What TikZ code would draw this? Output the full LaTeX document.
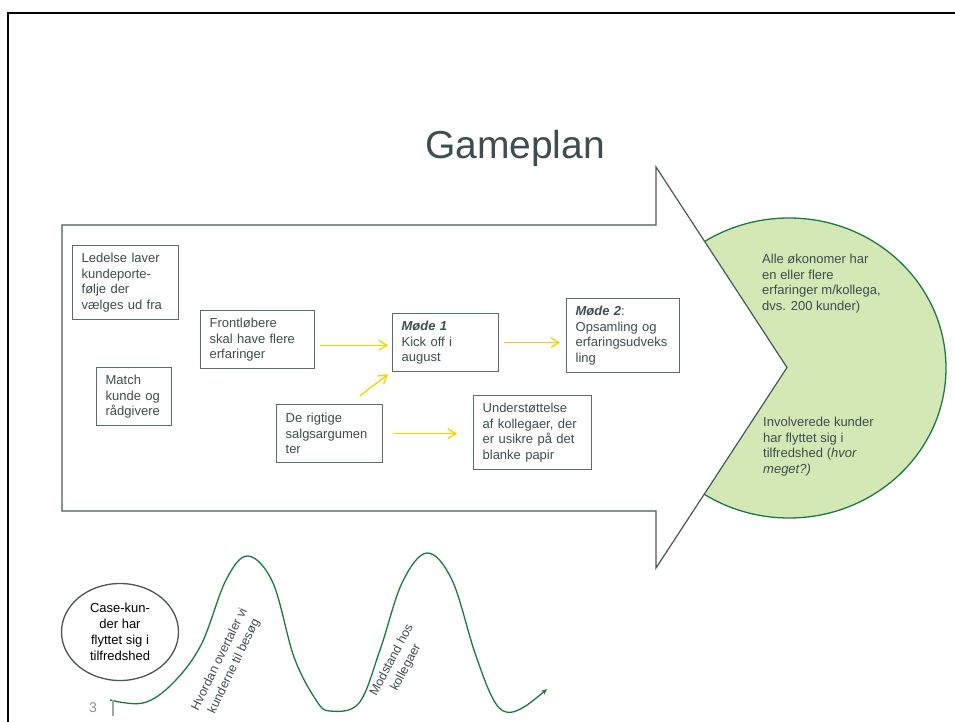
\documentclass[tikz,border=0pt]{standalone}
\usepackage{fontspec}
\setmainfont{Liberation Sans}
\usetikzlibrary{arrows.meta,shapes.geometric}
\definecolor{txtgray}{HTML}{3E4D50}
\definecolor{boxgray}{HTML}{5E6B6B}
\definecolor{arrgray}{HTML}{4A5757}
\definecolor{lgreen}{HTML}{D3E8B4}
\definecolor{dgreen}{HTML}{1E7A45}
\definecolor{wgreen}{HTML}{1B7A3C}
\definecolor{yarr}{HTML}{F2D500}
\definecolor{numgray}{HTML}{8E8E8E}
\tikzset{
  boxnode/.style={draw=boxgray, line width=1.3pt, fill=white, text=txtgray,
    font=\fontsize{13}{15.6}\selectfont, align=left, inner xsep=9pt, inner ysep=3pt,
    anchor=north west},
  ytext/.style={text=txtgray, font=\fontsize{13}{15.6}\selectfont, align=left,
    inner sep=0pt, anchor=north west},
  yellowarrow/.style={draw=yarr, line width=1.3pt, -{Straight Barb[length=8pt,width=10pt]}},
  wavetext/.style={text=txtgray, font=\fontsize{12.5}{16}\selectfont, align=center, inner sep=0pt},
}
\begin{document}
\begin{tikzpicture}[x=1pt,y=-1pt]
\useasboundingbox (0,0) rectangle (955,722);
% slide frame
\draw[line width=2.2pt, black] (8,722) -- (8,13) -- (955,13);
% title
\node[text=txtgray, font=\fontsize{39}{42}\selectfont, inner sep=0pt] (title) at (515,148) {Gameplan};
% goal circle
\filldraw[fill=lgreen, draw=dgreen, line width=1.3pt] (789,368) ellipse [x radius=157, y radius=150];
% big arrow
\filldraw[fill=white, draw=arrgray, line width=1.2pt, line join=miter]
  (62,225) -- (656,225) -- (656,167) -- (787,367.5) -- (656,568) -- (656,511) -- (62,511) -- cycle;
% circle texts
\node[ytext] (goal1) at (762,254) {Alle økonomer har\\en eller flere\\erfaringer m/kollega,\\dvs. 200 kunder)};
\node[ytext] (goal2) at (763,417) {Involverede kunder\\har flyttet sig i\\tilfredshed (\textit{hvor}\\\textit{meget?)}};
% boxes
\node[boxnode, minimum width=106, minimum height=74, text width=88] (ledelse) at (72,245) {Ledelse laver\\kundeporte-\\følje der\\vælges ud fra};
\node[boxnode, minimum width=75, minimum height=58, text width=57] (match) at (96,367) {Match\\kunde og\\rådgivere};
\node[boxnode, minimum width=114, minimum height=58, text width=96] (front) at (200,310) {Frontløbere\\skal have flere\\erfaringer};
\node[boxnode, minimum width=106, minimum height=58, text width=88] (rigtige) at (276,404) {De rigtige\\salgsargumen\\ter};
\node[boxnode, minimum width=106, minimum height=58, text width=88] (m1) at (392,313) {\textbf{\textit{Møde 1}}\\Kick off i\\august};
\node[boxnode, minimum width=113, minimum height=74, text width=95] (m2) at (566,298) {\textbf{\textit{Møde 2}}:\\Opsamling og\\erfaringsudveks\\ling};
\node[boxnode, minimum width=118, minimum height=74, text width=100] (under) at (473,395) {Understøttelse\\af kollegaer, der\\er usikre på det\\blanke papir};
% yellow arrows
\draw[yellowarrow] ([xshift=5pt,yshift=-5.6pt]front.east) -- ([xshift=-4pt,yshift=-2.6pt]m1.west);
\draw[yellowarrow] ([xshift=30pt,yshift=8pt]rigtige.north) -- ([xshift=-4pt,yshift=-2pt]m1.south west);
\draw[yellowarrow] ([xshift=5pt]m1.east) -- ([xshift=-6pt,yshift=-7pt]m2.west);
\draw[yellowarrow] ([xshift=10pt]rigtige.east) -- ([xshift=-16pt,yshift=-1pt]under.west);
% bottom ellipse
\node[draw=arrgray, line width=1.3pt, ellipse, minimum width=117, minimum height=97, inner sep=0pt,
  font=\fontsize{13}{16}\selectfont, align=center, text=black] (casekunder) at (120,632)
  {Case-kun-\\der har\\flyttet sig i\\tilfredshed};
% wave
\draw[wgreen, line width=1.3pt, -{Stealth[length=6pt,width=5pt]}] plot[smooth, tension=0.6] coordinates {
  (110,700) (143,703) (172,684) (201,645) (226,580) (248,556) (273,583) (294,657) (316,700) (330,711)
  (359,703) (380,650) (402,583) (427,553) (452,580) (474,650) (492,697) (506,712) (524,707) (547,689)};
\node[wavetext, rotate=64] (overtal) at (227,663) {Hvordan overtaler vi\\kunderne til besøg};
\node[wavetext, rotate=62] (modstand) at (399,664) {Modstand hos\\kollegaer};
% page number
\node[text=numgray, font=\fontsize{14}{16}\selectfont, inner sep=0pt] (pagenum) at (93,708) {3};
\draw[numgray!80, line width=1.2pt] (113,700) -- (113,716);
\end{tikzpicture}
\end{document}
